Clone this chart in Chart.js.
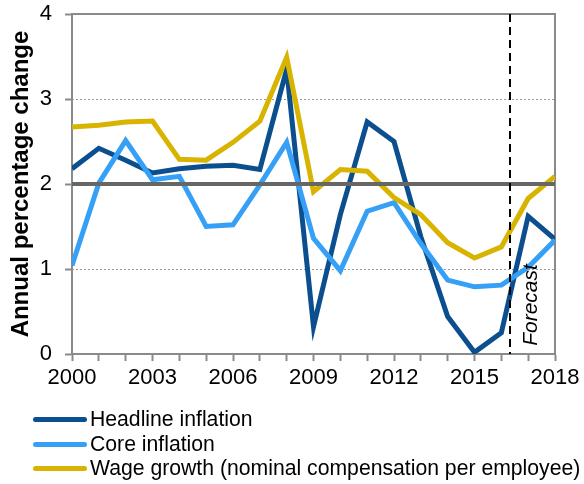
<!DOCTYPE html>
<html>
<head>
<meta charset="utf-8">
<script src="https://cdn.jsdelivr.net/npm/chart.js@4.4.1/dist/chart.umd.min.js"></script>
<style>
  html, body { margin: 0; padding: 0; background: #fff; }
  #wrap { position: relative; width: 584px; height: 484px; }
  canvas { position: absolute; left: 0; top: 0; }
  .leg { position: absolute; left: 0; height: 24px; font-family: "Liberation Sans", Arial, sans-serif; font-size: 21.2px; color: #000; white-space: nowrap; }
  .leg .sw { position: absolute; left: 33px; top: 10px; width: 54px; height: 5px; border-radius: 3px; }
  .leg .tx { position: absolute; left: 90px; top: 0; line-height: 24px; }
</style>
</head>
<body>
<div id="wrap">
  <canvas id="c" width="584" height="484"></canvas>
  <div class="leg" style="top:407px"><div class="sw" style="background:#0B4F8F"></div><div class="tx">Headline inflation</div></div>
  <div class="leg" style="top:432px"><div class="sw" style="background:#36A0F6"></div><div class="tx">Core inflation</div></div>
  <div class="leg" style="top:456px"><div class="sw" style="background:#D8B300"></div><div class="tx">Wage growth (nominal compensation per employee)</div></div>
</div>
<script>
const years = [2000,2001,2002,2003,2004,2005,2006,2007,2008,2009,2010,2011,2012,2013,2014,2015,2016,2017,2018];
const headline = [2.18,2.42,2.28,2.13,2.18,2.21,2.22,2.17,3.35,0.32,1.64,2.73,2.50,1.38,0.44,0.02,0.25,1.62,1.35];
const core = [1.04,2.01,2.51,2.05,2.09,1.50,1.52,1.99,2.49,1.36,0.98,1.68,1.78,1.30,0.87,0.79,0.81,1.02,1.34];
const wage = [2.67,2.69,2.73,2.74,2.29,2.28,2.49,2.74,3.49,1.91,2.17,2.15,1.84,1.64,1.31,1.13,1.26,1.83,2.09];
const xLabels = ['2000','2003','2006','2009','2012','2015','2018'];
const yTicks = [0,1,2,3,4];
const targetLine = 2;
const forecastStart = 2016.33;
const forecastLabel = 'Forecast';
const yTitle = 'Annual percentage change';

const FONT = '"Liberation Sans", Arial, sans-serif';
const AXIS = '#8a8a8a';

const toPts = arr => years.map((y, i) => ({x: y, y: arr[i]}));

const overlay = {
  id: 'overlay',
  beforeDatasetsDraw(chart) {
    const {ctx, chartArea: a, scales: {x, y}} = chart;
    ctx.save();
    ctx.strokeStyle = '#9a9a9a';
    ctx.lineWidth = 1;
    ctx.setLineDash([2, 2]);
    [1, 3].forEach(v => {
      const py = Math.round(y.getPixelForValue(v)) + 0.5;
      ctx.beginPath(); ctx.moveTo(a.left, py); ctx.lineTo(a.right, py); ctx.stroke();
    });
    ctx.setLineDash([]);
    ctx.strokeStyle = AXIS;
    ctx.lineWidth = 2;
    const top = y.getPixelForValue(4);
    ctx.beginPath(); ctx.moveTo(a.left, top); ctx.lineTo(a.right, top); ctx.lineTo(a.right, a.bottom); ctx.stroke();
    ctx.restore();
  },
  afterDatasetsDraw(chart) {
    const {ctx, chartArea: a, scales: {x, y}} = chart;
    ctx.save();
    const py = y.getPixelForValue(targetLine);
    ctx.strokeStyle = '#666666';
    ctx.lineWidth = 4;
    ctx.beginPath(); ctx.moveTo(a.left, py); ctx.lineTo(a.right, py); ctx.stroke();
    const fx = Math.round(x.getPixelForValue(forecastStart));
    ctx.strokeStyle = '#000';
    ctx.lineWidth = 2;
    ctx.setLineDash([8, 5]);
    ctx.beginPath(); ctx.moveTo(fx, a.top); ctx.lineTo(fx, a.bottom); ctx.stroke();
    ctx.setLineDash([]);
    ctx.translate(fx + 21, 305);
    ctx.rotate(-Math.PI / 2);
    ctx.fillStyle = '#000';
    ctx.font = 'italic 21px ' + FONT;
    ctx.textAlign = 'center';
    ctx.textBaseline = 'middle';
    ctx.fillText(forecastLabel, 0, 0);
    ctx.restore();
  }
};

new Chart(document.getElementById('c'), {
  type: 'line',
  data: {
    datasets: [
      {label: 'Headline inflation', data: toPts(headline), borderColor: '#0B4F8F', order: 3},
      {label: 'Core inflation', data: toPts(core), borderColor: '#36A0F6', order: 2},
      {label: 'Wage growth (nominal compensation per employee)', data: toPts(wage), borderColor: '#D8B300', order: 1}
    ]
  },
  options: {
    responsive: false,
    animation: false,
    devicePixelRatio: 1,
    layout: {padding: {left: 0, right: 29, top: 14, bottom: 90}},
    elements: {
      line: {borderWidth: 5, tension: 0, borderJoinStyle: 'miter', fill: false},
      point: {radius: 0, hoverRadius: 0}
    },
    plugins: {legend: {display: false}, tooltip: {enabled: false}},
    scales: {
      x: {
        type: 'linear', min: 2000, max: 2018,
        afterFit: s => { s.height = 40; s.paddingLeft = 0; s.paddingRight = 0; },
        afterBuildTicks: s => { s.ticks = years.map(v => ({value: v})); },
        ticks: {
          autoSkip: false, maxRotation: 0, padding: 4,
          color: '#000', font: {family: FONT, size: 22},
          callback: v => xLabels.includes(String(v)) ? String(v) : ''
        },
        grid: {drawOnChartArea: false, drawTicks: true, tickLength: 7, color: AXIS, tickWidth: 2},
        border: {color: AXIS, width: 2}
      },
      y: {
        min: 0, max: 4,
        afterFit: s => { s.width = 72; s.paddingTop = 0; s.paddingBottom = 0; },
        afterBuildTicks: s => { s.ticks = yTicks.map(v => ({value: v})); },
        ticks: {padding: 13, color: '#000', font: {family: FONT, size: 22}},
        grid: {drawOnChartArea: false, drawTicks: true, tickLength: 7, color: AXIS, tickWidth: 2},
        border: {color: AXIS, width: 2},
        title: {display: true, text: yTitle, color: '#000', font: {family: FONT, size: 24, weight: 'bold'}, padding: {top: 7, bottom: 0}}
      }
    }
  },
  plugins: [overlay]
});
</script>
</body>
</html>
